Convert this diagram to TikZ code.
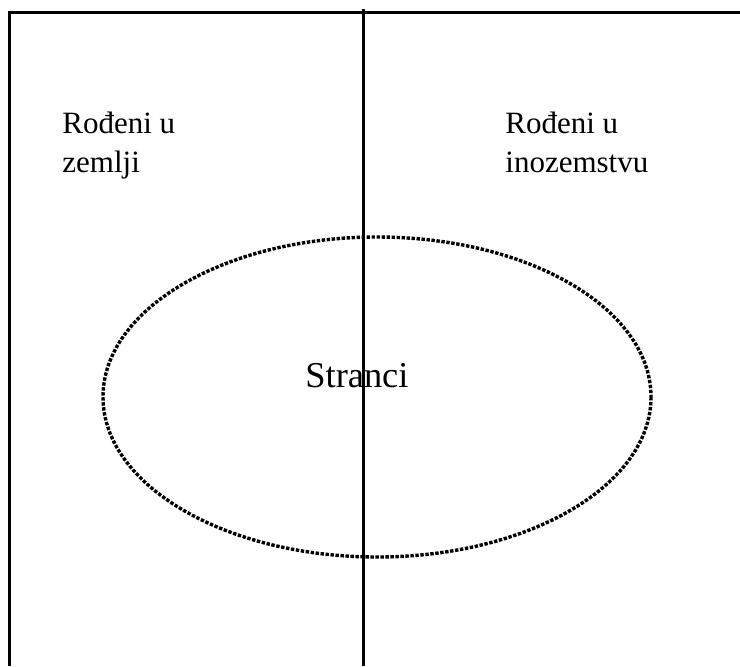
\documentclass[tikz,border=0pt]{standalone}
\usepackage{fontspec}
\setmainfont{Liberation Serif}
\usetikzlibrary{positioning}

\begin{document}
\begin{tikzpicture}[
  x=0.5pt, y=-0.5pt,
  frameline/.style={line width=1.5pt},
  dotline/.style={line width=1.7pt, dash pattern=on 1.7pt off 0.8pt},
  grouplabel/.style={anchor=base west, align=left, inner sep=0pt, font=\fontsize{15.5pt}{19.5pt}\selectfont},
  biglabel/.style={anchor=base west, inner sep=0pt, font=\fontsize{18.2pt}{22pt}\selectfont}
]
\useasboundingbox (0,0) rectangle (740,666);
% labels (base = last line)
\node[grouplabel] (domaci) at (62,172) {Rođeni u\\zemlji};
\node[grouplabel] (inozemni) at (505,172) {Rođeni u\\inozemstvu};
\node[biglabel] (stranci) at (305,387) {Stranci};
% dotted ellipse
\draw[dotline] (377,397) ellipse [x radius=274, y radius=160];
% frame and divider
\draw[frameline] (9,666) -- (9,12) -- (740,12);
\draw[frameline] (363,9) -- (363,666);
\end{tikzpicture}
\end{document}
